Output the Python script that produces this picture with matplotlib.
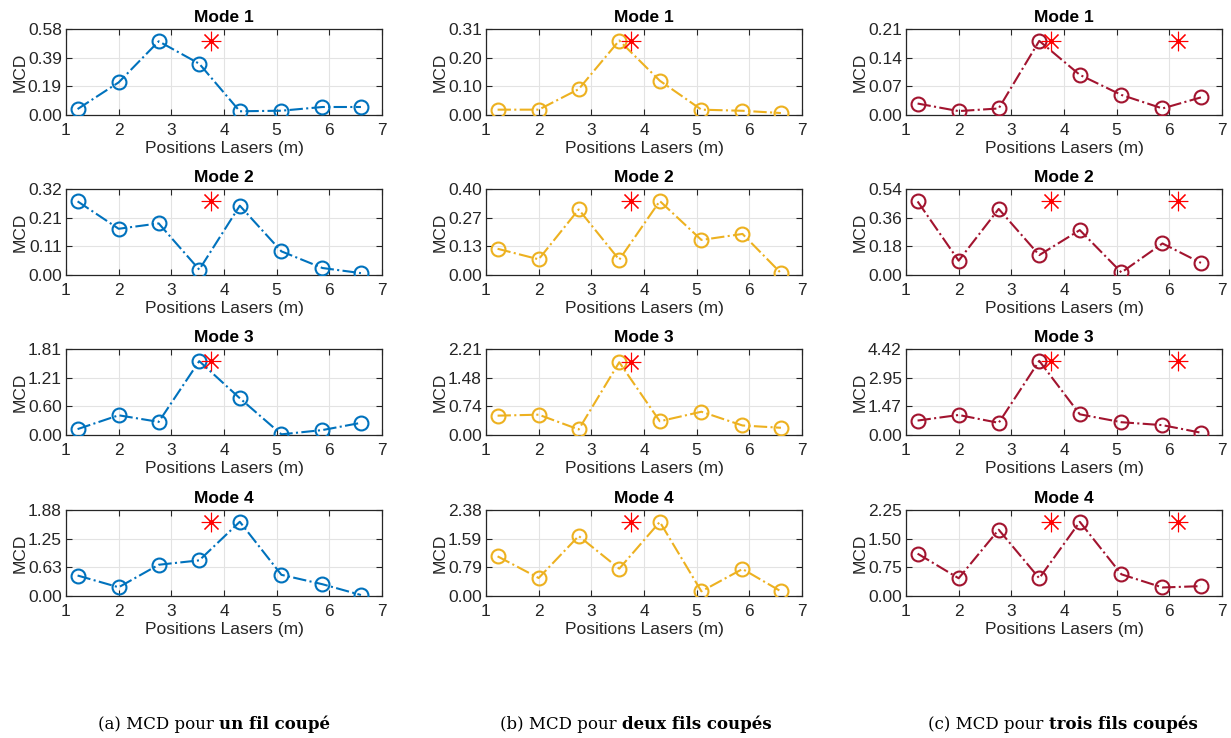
import matplotlib
matplotlib.use("Agg")
import matplotlib.pyplot as plt
import numpy as np

positions = [1.22, 2.0, 2.76, 3.53, 4.3, 5.09, 5.87, 6.6]
modes = ["Mode 1", "Mode 2", "Mode 3", "Mode 4"]

# column (a): un fil coupé
mcd_a = [
    [0.040, 0.22, 0.497, 0.346, 0.025, 0.029, 0.054, 0.054],
    [0.274, 0.172, 0.192, 0.020, 0.258, 0.088, 0.026, 0.007],
    [0.124, 0.415, 0.276, 1.555, 0.774, 0.014, 0.104, 0.256],
    [0.448, 0.191, 0.683, 0.779, 1.623, 0.463, 0.257, 0.022],
]
# column (b): deux fils coupés
mcd_b = [
    [0.019, 0.019, 0.092, 0.265, 0.122, 0.019, 0.015, 0.007],
    [0.122, 0.073, 0.305, 0.071, 0.344, 0.163, 0.191, 0.009],
    [0.498, 0.523, 0.143, 1.873, 0.354, 0.599, 0.245, 0.186],
    [1.098, 0.498, 1.66, 0.756, 2.05, 0.129, 0.747, 0.129],
]
# column (c): trois fils coupés
mcd_c = [
    [0.028, 0.0095, 0.016, 0.181, 0.098, 0.049, 0.016, 0.043],
    [0.462, 0.090, 0.415, 0.125, 0.282, 0.016, 0.198, 0.076],
    [0.742, 1.029, 0.624, 3.81, 1.063, 0.658, 0.506, 0.118],
    [1.108, 0.464, 1.735, 0.464, 1.94, 0.567, 0.223, 0.258],
]

ylim_a = [0.58, 0.32, 1.81, 1.88]
ylim_b = [0.306, 0.40, 2.214, 2.38]
ylim_c = [0.21, 0.54, 4.42, 2.25]

cut_a = [3.76]
cut_b = [3.76]
cut_c = [3.76, 6.17]

colors = ["#0072BD", "#EDB120", "#A2142F"]
captions = [("(a) MCD pour ", "un fil coupé"),
            ("(b) MCD pour ", "deux fils coupés"),
            ("(c) MCD pour ", "trois fils coupés")]

plt.rcParams['font.family'] = ['Liberation Sans', 'DejaVu Sans']

fig = plt.figure(figsize=(12.31, 7.38), dpi=100)
W, H = 1231, 738

col_lefts = [66, 486, 906]
col_width = 316
row_tops = [29, 189, 349, 510]
row_height = 86

columns = [(mcd_a, ylim_a, cut_a), (mcd_b, ylim_b, cut_b), (mcd_c, ylim_c, cut_c)]
fs = 12.5

for ci, (data, ylims, cuts) in enumerate(columns):
    for ri in range(4):
        left = col_lefts[ci] / W
        bottom = 1 - (row_tops[ri] + row_height) / H
        ax = fig.add_axes([left, bottom, col_width / W, row_height / H])
        vals = data[ri]
        ax.plot(positions, vals, linestyle='-.', color=colors[ci], lw=1.5,
                marker='o', markersize=10, markerfacecolor='none',
                markeredgewidth=1.5, zorder=3)
        peak = max(vals)
        ax.plot(cuts, [peak] * len(cuts), linestyle='none', marker=(8, 2, 0),
                color='red', markersize=14, markeredgewidth=0.8, zorder=4)
        ax.plot(cuts, [peak] * len(cuts), linestyle='none', marker='o',
                color='red', markersize=2.5, zorder=5)
        ymax = ylims[ri]
        ax.set_xlim(1, 7)
        ax.set_ylim(0, ymax)
        yt = np.linspace(0, ymax, 4)
        ax.set_yticks(yt)
        ax.set_yticklabels([f"{v:.2f}" for v in yt])
        ax.set_xticks(range(1, 8))
        ax.grid(True, color='#e3e3e3', lw=0.8)
        ax.set_axisbelow(True)
        ax.tick_params(direction='in', top=True, right=True, labelsize=fs,
                       colors='#262626', length=4, pad=3)
        ax.tick_params(axis='x', pad=6)
        for s in ax.spines.values():
            s.set_color('#262626')
            s.set_linewidth(0.9)
        ax.set_title(modes[ri], fontsize=fs, fontweight='bold', pad=5)
        ax.set_ylabel("MCD", fontsize=fs, color='#262626', labelpad=0)
        ax.set_xlabel("Positions Lasers (m)", fontsize=fs, color='#262626', labelpad=2)

cap_centers = [214, 636, 1063]
for (pre, bold), cx in zip(captions, cap_centers):
    t1 = fig.text(0, 0, pre, fontsize=12, family='DejaVu Serif')
    t2 = fig.text(0, 0, bold, fontsize=12, family='DejaVu Serif', fontweight='bold')
    fig.canvas.draw()
    r = fig.canvas.get_renderer()
    w1 = t1.get_window_extent(r).width
    w2 = t2.get_window_extent(r).width
    x0 = cx - (w1 + w2) / 2
    y = 1 - 729 / H
    t1.set_position((x0 / W, y))
    t2.set_position(((x0 + w1) / W, y))
    t1.set_va('baseline')
    t2.set_va('baseline')

fig.savefig("out.png", dpi=100)
